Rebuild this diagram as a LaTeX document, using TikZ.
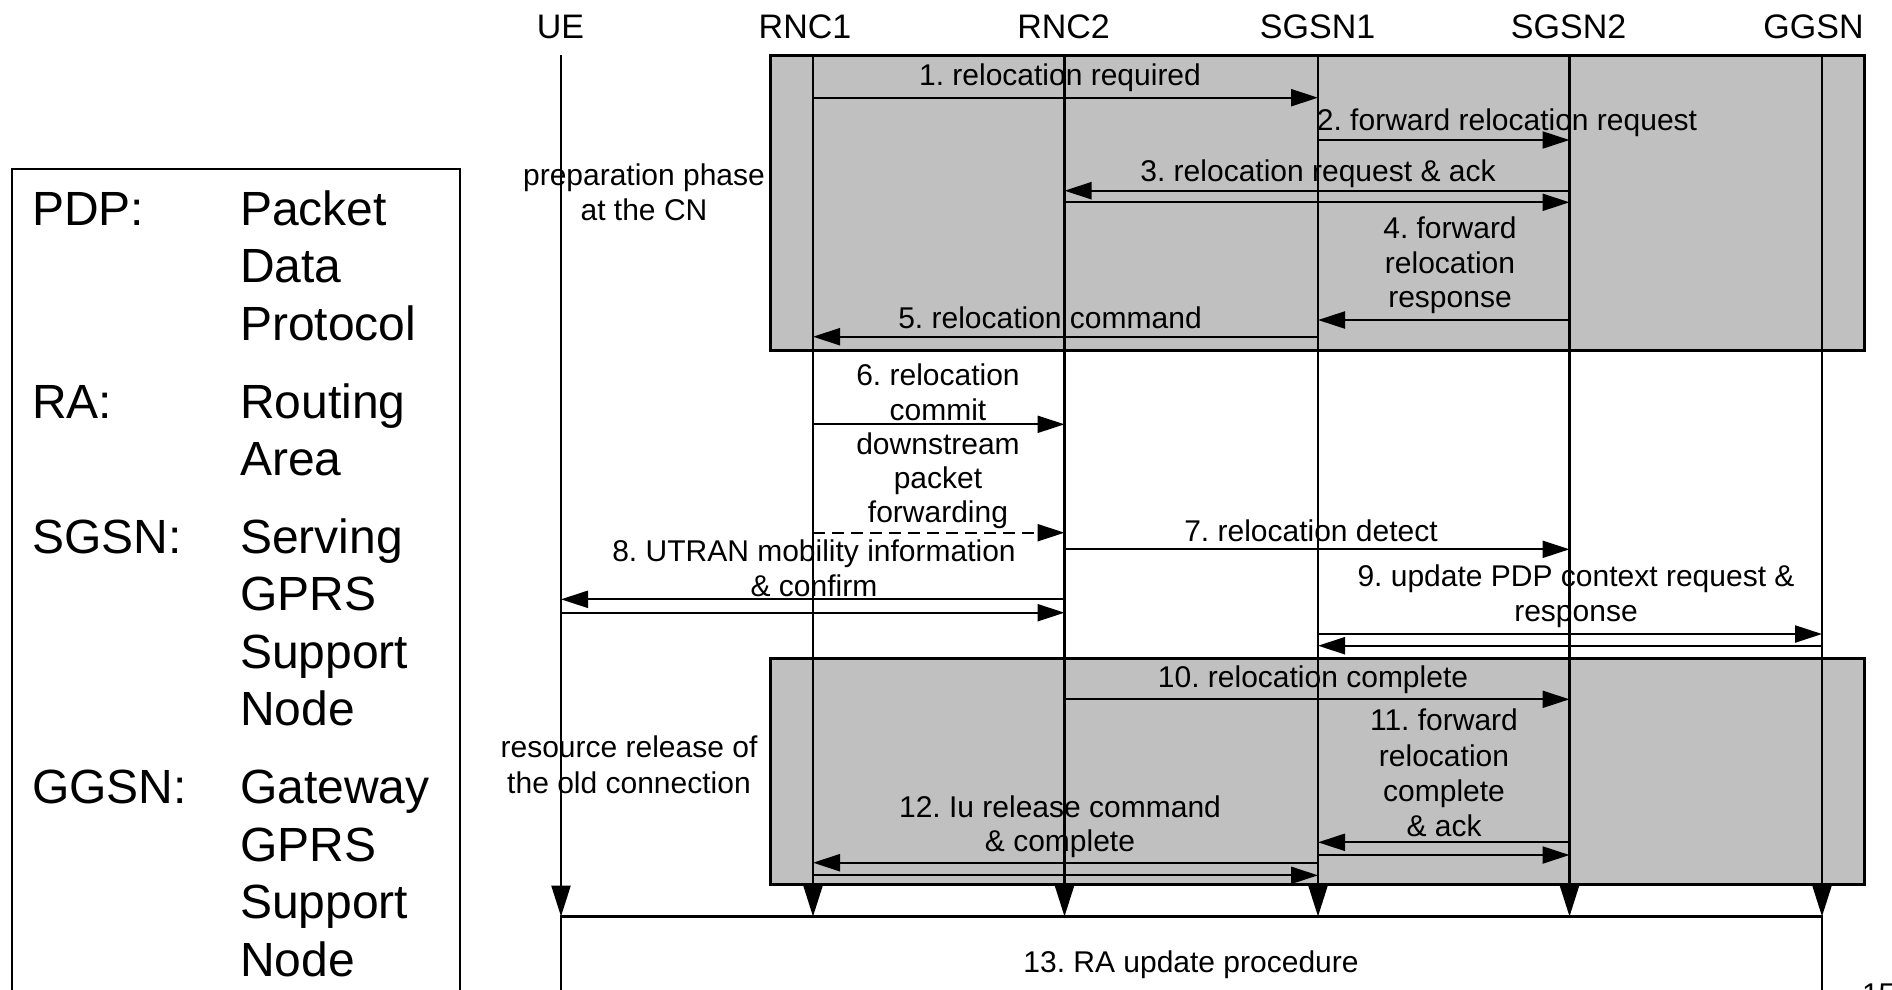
\documentclass[tikz,border=0pt]{standalone}
\usepackage{fontspec}
\setmainfont{Liberation Sans}
\usetikzlibrary{arrows.meta}
\definecolor{phasegray}{RGB}{192,192,192}
\frenchspacing
\begin{document}
\begin{tikzpicture}[x=1pt,y=-1pt,
  every node/.style={inner sep=0pt, outer sep=0pt},
  hdr/.style={font=\fontsize{34}{40}\selectfont, anchor=base},
  lbl/.style={font=\fontsize{30}{35}\selectfont, anchor=base},
  leg/.style={font=\fontsize{48}{58}\selectfont, anchor=base west},
  phase/.style={fill=phasegray, draw=black, line width=3pt},
  life/.style={line width=2.4pt, -{Triangle[length=31pt,width=19pt]}},
  msg/.style={line width=2.2pt, -{Triangle[length=27pt,width=17pt]}},
  fwd/.style={msg, dash pattern=on 12pt off 7pt},
]
\useasboundingbox (0,0) rectangle (1892,989);
\clip (0,0) rectangle (1892,989);

% lifeline tops and the common bottom row
\coordinate (ue)    at (561,55);
\coordinate (rnc1)  at (813,55);
\coordinate (rnc2)  at (1064.5,55);
\coordinate (sgsn1) at (1318,55);
\coordinate (sgsn2) at (1569.5,55);
\coordinate (ggsn)  at (1822,55);
\coordinate (bot)   at (0,916.5);

% shaded phases
\path[phase] (770.5,55.5) rectangle (1864.5,350);
\path[phase] (770.5,658.5) rectangle (1864.5,884.5);

% RA update box
\draw[line width=2.4pt] (ue |- bot) rectangle (1822,1010);

% legend box
\draw[line width=2.4pt] (12,169) rectangle (460,1010);

% headers
\node[hdr] (hue)    at (560.5,38) {UE};
\node[hdr] (hrnc1)  at (805,38)   {RNC1};
\node[hdr] (hrnc2)  at (1063.6,38){RNC2};
\node[hdr] (hsgsn1) at (1317.6,38){SGSN1};
\node[hdr] (hsgsn2) at (1568.6,38){SGSN2};
\node[hdr] (hggsn)  at (1813.5,38){GGSN};

% lifelines
\foreach \n in {ue,rnc1,rnc2,sgsn1,sgsn2,ggsn}
  \draw[life] (\n) -- (\n |- bot);

% message rows
\coordinate (m1)  at (0,97.7);
\coordinate (m2)  at (0,140);
\coordinate (m3a) at (0,190.7);
\coordinate (m3b) at (0,202.3);
\coordinate (m4)  at (0,320);
\coordinate (m5)  at (0,336.7);
\coordinate (m6)  at (0,424.3);
\coordinate (mf)  at (0,532.7);
\coordinate (m7)  at (0,549.3);
\coordinate (m8a) at (0,599.3);
\coordinate (m8b) at (0,612.7);
\coordinate (m9a) at (0,634);
\coordinate (m9b) at (0,645.7);
\coordinate (m10) at (0,699.3);
\coordinate (m11a) at (0,842.3);
\coordinate (m11b) at (0,855);
\coordinate (m12a) at (0,862.7);
\coordinate (m12b) at (0,875.3);

% messages
\draw[msg] (rnc1 |- m1) -- (sgsn1 |- m1);
\draw[msg] (sgsn1 |- m2) -- (sgsn2 |- m2);
\draw[msg] (sgsn2 |- m3a) -- (rnc2 |- m3a);
\draw[msg] (rnc2 |- m3b) -- (sgsn2 |- m3b);
\draw[msg] (sgsn2 |- m4) -- (sgsn1 |- m4);
\draw[msg] (sgsn1 |- m5) -- (rnc1 |- m5);
\draw[msg] (rnc1 |- m6) -- (rnc2 |- m6);
\draw[fwd] (rnc1 |- mf) -- (rnc2 |- mf);
\draw[msg] (rnc2 |- m7) -- (sgsn2 |- m7);
\draw[msg] (rnc2 |- m8a) -- (ue |- m8a);
\draw[msg] (ue |- m8b) -- (rnc2 |- m8b);
\draw[msg] (sgsn1 |- m9a) -- (ggsn |- m9a);
\draw[msg] (ggsn |- m9b) -- (sgsn1 |- m9b);
\draw[msg] (rnc2 |- m10) -- (sgsn2 |- m10);
\draw[msg] (sgsn2 |- m11a) -- (sgsn1 |- m11a);
\draw[msg] (sgsn1 |- m11b) -- (sgsn2 |- m11b);
\draw[msg] (sgsn1 |- m12a) -- (rnc1 |- m12a);
\draw[msg] (rnc1 |- m12b) -- (sgsn1 |- m12b);

% message labels
\node[lbl] (l1)  at (1060,85)    {1. relocation required};
\node[lbl] (l2)  at (1507,130)   {2. forward relocation request};
\node[lbl] (l3)  at (1318,181.7) {3. relocation request \& ack};
\node[lbl] (l4a) at (1450,238.3) {4. forward};
\node[lbl] (l4b) at (1450,273.3) {relocation};
\node[lbl] (l4c) at (1450,307)   {response};
\node[lbl] (l5)  at (1050,328.3) {5. relocation command};
\node[lbl] (l6a) at (938,385)    {6. relocation};
\node[lbl] (l6b) at (938,420)    {commit};
\node[lbl] (lfa) at (938,454)    {downstream};
\node[lbl] (lfb) at (938,488)    {packet};
\node[lbl] (lfc) at (938,522)    {forwarding};
\node[lbl] (l7)  at (1311,541)   {7. relocation detect};
\node[lbl] (l8a) at (814,561.7)  {8. UTRAN mobility information};
\node[lbl] (l8b) at (814,596)    {\& confirm};
\node[lbl] (l9a) at (1576,586.7) {9. update PDP context request \&};
\node[lbl] (l9b) at (1576,621.7) {response};
\node[lbl] (l10) at (1313,687.7) {10. relocation complete};
\node[lbl] (l11a) at (1444,730.7) {11. forward};
\node[lbl] (l11b) at (1444,766)   {relocation};
\node[lbl] (l11c) at (1444,801)   {complete};
\node[lbl] (l11d) at (1444,836.7) {\& ack};
\node[lbl] (l12a) at (1060,817.3) {12. Iu release command};
\node[lbl] (l12b) at (1060,851.7) {\& complete};
\node[lbl] (l13)  at (1191,972.7) {13. RA update procedure};
\node[lbl] (pa) at (644,185)    {preparation phase};
\node[lbl] (pb) at (644,220.7)  {at the CN};
\node[lbl] (ra) at (629,757.3)  {resource release of};
\node[lbl] (rb) at (629,793.3)  {the old connection};
\node[lbl, anchor=base west] (pg) at (1862,1004) {15};

% legend
\node[leg] (k1)  at (32,225)   {PDP:};
\node[leg] (v1a) at (240,225)  {Packet};
\node[leg] (v1b) at (240,282.5){Data};
\node[leg] (v1c) at (240,340)  {Protocol};
\node[leg] (k2)  at (32,418)   {RA:};
\node[leg] (v2a) at (240,418)  {Routing};
\node[leg] (v2b) at (240,475.5){Area};
\node[leg] (k3)  at (32,553)   {SGSN:};
\node[leg] (v3a) at (240,553)  {Serving};
\node[leg] (v3b) at (240,610.5){GPRS};
\node[leg] (v3c) at (240,668)  {Support};
\node[leg] (v3d) at (240,725.5){Node};
\node[leg] (k4)  at (32,803.5) {GGSN:};
\node[leg] (v4a) at (240,803.5){Gateway};
\node[leg] (v4b) at (240,861)  {GPRS};
\node[leg] (v4c) at (240,918.5){Support};
\node[leg] (v4d) at (240,976)  {Node};
\end{tikzpicture}
\end{document}
